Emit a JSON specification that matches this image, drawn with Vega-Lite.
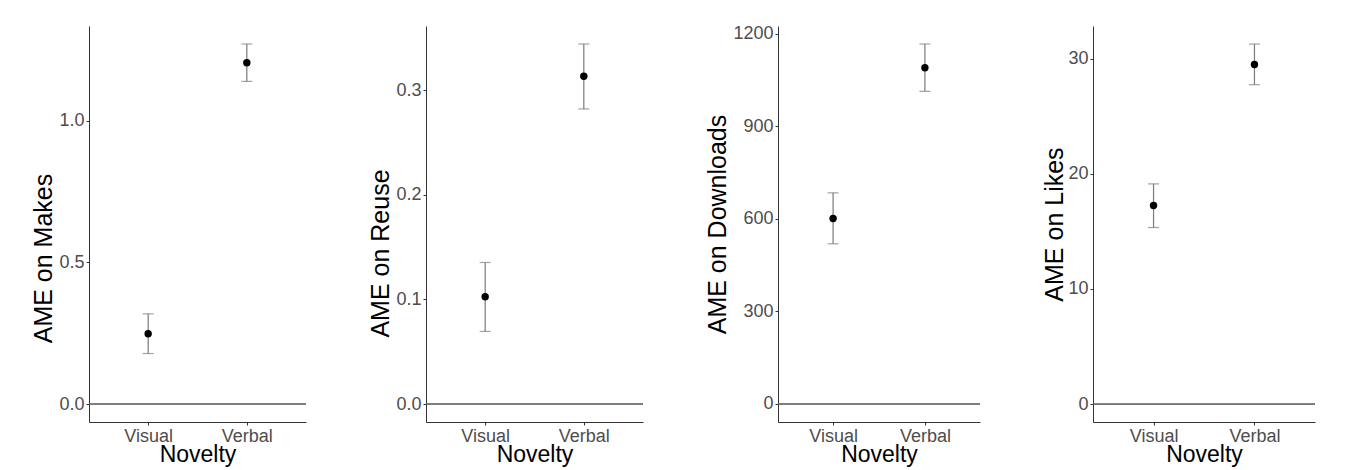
{
  "$schema": "https://vega.github.io/schema/vega-lite/v6.json",
  "background": "white",
  "padding": {"left": 31, "top": 24, "right": 5, "bottom": 5},
  "spacing": 61,
  "config": {
    "font": "Liberation Sans",
    "view": {"stroke": null},
    "axis": {
      "grid": false,
      "domainColor": "#333333",
      "domainWidth": 1,
      "tickColor": "#333333",
      "tickSize": 3,
      "labelFont": "Liberation Sans",
      "labelFontSize": 18,
      "labelColor": "#4d4d4d",
      "labelPadding": 2,
      "titleFont": "Liberation Sans",
      "titleFontSize": 23,
      "titleFontWeight": "normal",
      "titleColor": "#000000"
    },
    "axisX": {"labelAngle": 0, "titlePadding": -2},
    "axisY": {"titlePadding": 2, "labelBaseline": "middle", "titleFontSize": 25}
  },
  "data": {
    "values": [
      {"panel": "Makes", "novelty": "Visual", "ame": 0.248, "lo": 0.178, "hi": 0.318},
      {"panel": "Makes", "novelty": "Verbal", "ame": 1.204, "lo": 1.138, "hi": 1.270},
      {"panel": "Reuse", "novelty": "Visual", "ame": 0.1026, "lo": 0.0694, "hi": 0.1353},
      {"panel": "Reuse", "novelty": "Verbal", "ame": 0.3133, "lo": 0.2821, "hi": 0.3442},
      {"panel": "Downloads", "novelty": "Visual", "ame": 601.6, "lo": 519.6, "hi": 684.8},
      {"panel": "Downloads", "novelty": "Verbal", "ame": 1090.7, "lo": 1014, "hi": 1167.5},
      {"panel": "Likes", "novelty": "Visual", "ame": 17.25, "lo": 15.34, "hi": 19.13},
      {"panel": "Likes", "novelty": "Verbal", "ame": 29.5, "lo": 27.75, "hi": 31.28}
    ]
  },
  "hconcat": [
    {
      "width": 217, "height": 396,
      "transform": [{"filter": "datum.panel === 'Makes'"}],
      "encoding": {
        "x": {"field": "novelty", "type": "nominal", "sort": ["Visual", "Verbal"], "scale": {"type": "point", "padding": 0.6}, "title": "Novelty"}
      },
      "layer": [
        {"mark": {"type": "rule", "color": "#555555", "strokeWidth": 1}, "encoding": {"x": null, "y": {"datum": 0, "type": "quantitative", "scale": {"domain": [-0.0635, 1.3335], "nice": false, "zero": false}, "axis": {"title": "AME on Makes", "values": [0, 0.5, 1.0], "format": ".1f", "titleY": 232}}}},
        {"mark": {"type": "rule", "color": "#7a7a7a", "strokeWidth": 1.2}, "encoding": {"y": {"field": "lo", "type": "quantitative"}, "y2": {"field": "hi"}}},
        {"mark": {"type": "tick", "color": "#7a7a7a", "size": 11, "thickness": 1.2}, "encoding": {"y": {"field": "lo", "type": "quantitative"}}},
        {"mark": {"type": "tick", "color": "#7a7a7a", "size": 11, "thickness": 1.2}, "encoding": {"y": {"field": "hi", "type": "quantitative"}}},
        {"mark": {"type": "point", "filled": true, "color": "#000000", "size": 55, "opacity": 1}, "encoding": {"y": {"field": "ame", "type": "quantitative"}}}
      ]
    },
    {
      "width": 217, "height": 396,
      "transform": [{"filter": "datum.panel === 'Reuse'"}],
      "encoding": {
        "x": {"field": "novelty", "type": "nominal", "sort": ["Visual", "Verbal"], "scale": {"type": "point", "padding": 0.6}, "title": "Novelty"}
      },
      "layer": [
        {"mark": {"type": "rule", "color": "#555555", "strokeWidth": 1}, "encoding": {"x": null, "y": {"datum": 0, "type": "quantitative", "scale": {"domain": [-0.0172, 0.3614], "nice": false, "zero": false}, "axis": {"title": "AME on Reuse", "values": [0, 0.1, 0.2, 0.3], "format": ".1f", "titleY": 227}}}},
        {"mark": {"type": "rule", "color": "#7a7a7a", "strokeWidth": 1.2}, "encoding": {"y": {"field": "lo", "type": "quantitative"}, "y2": {"field": "hi"}}},
        {"mark": {"type": "tick", "color": "#7a7a7a", "size": 11, "thickness": 1.2}, "encoding": {"y": {"field": "lo", "type": "quantitative"}}},
        {"mark": {"type": "tick", "color": "#7a7a7a", "size": 11, "thickness": 1.2}, "encoding": {"y": {"field": "hi", "type": "quantitative"}}},
        {"mark": {"type": "point", "filled": true, "color": "#000000", "size": 55, "opacity": 1}, "encoding": {"y": {"field": "ame", "type": "quantitative"}}}
      ]
    },
    {
      "width": 202, "height": 396,
      "transform": [{"filter": "datum.panel === 'Downloads'"}],
      "encoding": {
        "x": {"field": "novelty", "type": "nominal", "sort": ["Visual", "Verbal"], "scale": {"type": "point", "padding": 0.6}, "title": "Novelty"}
      },
      "layer": [
        {"mark": {"type": "rule", "color": "#555555", "strokeWidth": 1}, "encoding": {"x": null, "y": {"datum": 0, "type": "quantitative", "scale": {"domain": [-58.4, 1225.9], "nice": false, "zero": false}, "axis": {"title": "AME on Downloads", "values": [0, 300, 600, 900, 1200], "format": "d"}}}},
        {"mark": {"type": "rule", "color": "#7a7a7a", "strokeWidth": 1.2}, "encoding": {"y": {"field": "lo", "type": "quantitative"}, "y2": {"field": "hi"}}},
        {"mark": {"type": "tick", "color": "#7a7a7a", "size": 11, "thickness": 1.2}, "encoding": {"y": {"field": "lo", "type": "quantitative"}}},
        {"mark": {"type": "tick", "color": "#7a7a7a", "size": 11, "thickness": 1.2}, "encoding": {"y": {"field": "hi", "type": "quantitative"}}},
        {"mark": {"type": "point", "filled": true, "color": "#000000", "size": 55, "opacity": 1}, "encoding": {"y": {"field": "ame", "type": "quantitative"}}}
      ]
    },
    {
      "width": 222, "height": 396,
      "transform": [{"filter": "datum.panel === 'Likes'"}],
      "encoding": {
        "x": {"field": "novelty", "type": "nominal", "sort": ["Visual", "Verbal"], "scale": {"type": "point", "padding": 0.6}, "title": "Novelty"}
      },
      "layer": [
        {"mark": {"type": "rule", "color": "#555555", "strokeWidth": 1}, "encoding": {"x": null, "y": {"datum": 0, "type": "quantitative", "scale": {"domain": [-1.56, 32.85], "nice": false, "zero": false}, "axis": {"title": "AME on Likes", "values": [0, 10, 20, 30], "format": "d", "titlePadding": 0}}}},
        {"mark": {"type": "rule", "color": "#7a7a7a", "strokeWidth": 1.2}, "encoding": {"y": {"field": "lo", "type": "quantitative"}, "y2": {"field": "hi"}}},
        {"mark": {"type": "tick", "color": "#7a7a7a", "size": 11, "thickness": 1.2}, "encoding": {"y": {"field": "lo", "type": "quantitative"}}},
        {"mark": {"type": "tick", "color": "#7a7a7a", "size": 11, "thickness": 1.2}, "encoding": {"y": {"field": "hi", "type": "quantitative"}}},
        {"mark": {"type": "point", "filled": true, "color": "#000000", "size": 55, "opacity": 1}, "encoding": {"y": {"field": "ame", "type": "quantitative"}}}
      ]
    }
  ]
}
